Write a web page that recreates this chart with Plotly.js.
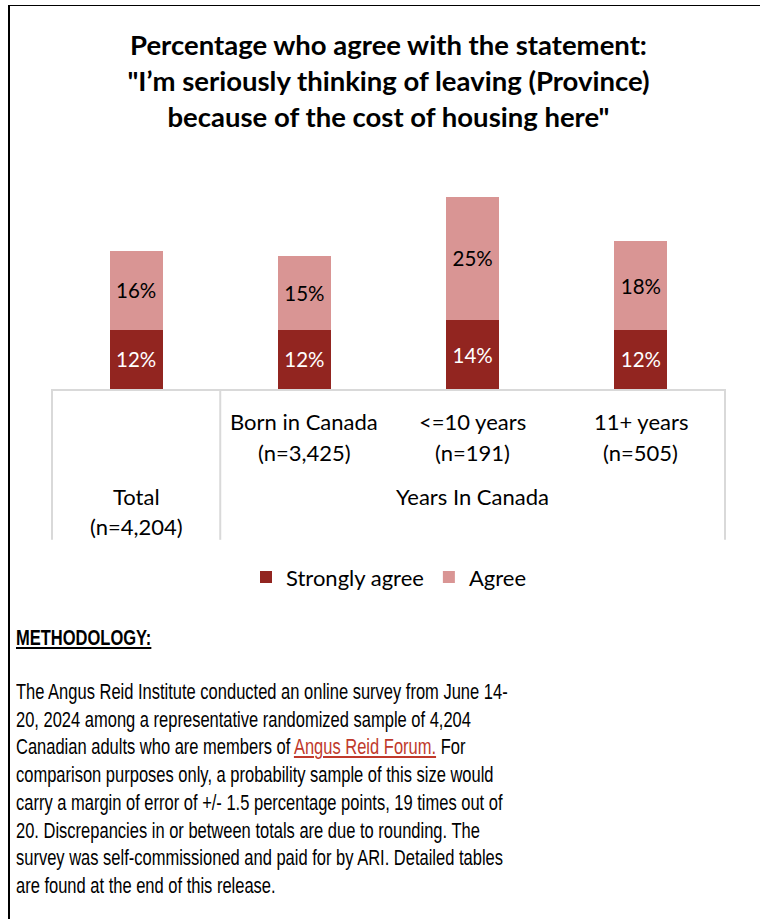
<!DOCTYPE html>
<html>
<head>
<meta charset="utf-8">
<script src="https://cdn.plot.ly/plotly-3.0.1.min.js"></script>
<style>
  html, body { margin: 0; padding: 0; background: #fff; }
  body { width: 760px; height: 919px; position: relative; overflow: hidden; }
  #frame { position: absolute; left: 8px; top: 5px; width: 760px; height: 930px;
           border-left: 2px solid #000; border-top: 1px solid #000; }
  #chart { position: absolute; left: 0; top: 0; width: 760px; height: 610px; }
  .method { position: absolute; left: 16px; font-family: "Liberation Sans", Arial, sans-serif;
            font-size: 22px; line-height: 27.7px; color: #000; white-space: nowrap;
            transform: scaleX(0.75); transform-origin: left top; }
  #mhead { top: 624px; font-weight: bold; text-decoration: underline; }
  #mbody { top: 678px; }
  #mbody a { color: #c0392b; text-decoration: underline; }
</style>
</head>
<body>
<div id="frame"></div>
<div id="chart"></div>
<div class="method" id="mhead">METHODOLOGY:</div>
<div class="method" id="mbody">The Angus Reid Institute conducted an online survey from June 14-<br>20, 2024 among a representative randomized sample of 4,204<br>Canadian adults who are members of <a>Angus Reid Forum.</a> For<br>comparison purposes only, a probability sample of this size would<br>carry a margin of error of +/- 1.5 percentage points, 19 times out of<br>20. Discrepancies in or between totals are due to rounding. The<br>survey was self-commissioned and paid for by ARI. Detailed tables<br>are found at the end of this release.</div>
<script>
// chart data
var categories = ["Total", "Born in Canada", "<=10 years", "11+ years"];
var sampleSizes = ["4,204", "3,425", "191", "505"];
var groupLabel = "Years In Canada";
var stronglyAgree = [12, 12, 14, 12];
var agree = [16, 15, 25, 18];

var font = "Lato, 'Noto Sans', sans-serif";
var darkRed = "#922520";
var pink = "#d99594";
var gridGrey = "#d9d9d9";

var H = 610;
var plotTop = 182, plotBottom = 392;
var plotH = plotBottom - plotTop;

// pixel row -> yshift (negative = below the baseline)
function shiftTo(py) { return plotBottom - py; }

var traces = [
    {
        type: "bar",
        name: "Strongly agree",
        x: categories,
        y: stronglyAgree,
        marker: {color: darkRed},
        text: stronglyAgree.map(function (v) { return v + "%"; }),
        textposition: "inside",
        insidetextanchor: "middle",
        textangle: 0,
        textfont: {family: font, size: 20.5, color: "#fff"},
        hoverinfo: "skip"
    },
    {
        type: "bar",
        name: "Agree",
        x: categories,
        y: agree,
        marker: {color: pink},
        text: agree.map(function (v) { return v + "%"; }),
        textposition: "inside",
        insidetextanchor: "middle",
        textangle: 0,
        textfont: {family: font, size: 20.5, color: "#000"},
        hoverinfo: "skip"
    }
];

var annotations = [];
var labelFont = {family: font, size: 22, color: "#000"};
categories.forEach(function (c, i) {
    var rows = i === 0 ? [499.5, 529.5] : [424.5, 455.5];
    annotations.push({
        x: c, xref: "x", y: 0, yref: "paper", yanchor: "middle",
        yshift: shiftTo(rows[0]), text: c, showarrow: false, font: labelFont
    });
    annotations.push({
        x: c, xref: "x", y: 0, yref: "paper", yanchor: "middle",
        yshift: shiftTo(rows[1]), text: "(n=" + sampleSizes[i] + ")", showarrow: false, font: labelFont
    });
});
annotations.push({
    x: categories[2], xref: "x", y: 0, yref: "paper", yanchor: "middle",
    yshift: shiftTo(499.5), text: groupLabel, showarrow: false, font: labelFont
});

// dividers between outer groups (left edge, after Total, right edge)
var n = categories.length;
var dividerBottom = -(545 - plotBottom) / plotH;
var shapes = [0, 1, n].map(function (k) {
    return {
        type: "line", xref: "paper", yref: "paper",
        x0: k / n, x1: k / n, y0: 0, y1: dividerBottom,
        line: {color: gridGrey, width: 2}
    };
});

var layout = {
    width: 760,
    height: H,
    margin: {l: 52, r: 35, t: plotTop, b: H - plotBottom, pad: 0},
    paper_bgcolor: "rgba(0,0,0,0)",
    plot_bgcolor: "rgba(0,0,0,0)",
    barmode: "stack",
    bargap: 0.685,
    title: {
        text: "<b>Percentage who agree with the statement:<br>\"I’m seriously thinking of leaving (Province)<br>because of the cost of housing here\"</b>",
        font: {family: font, size: 27.5, color: "#000"},
        x: 0.5, xref: "paper", xanchor: "center",
        y: 1 - 55 / H, yref: "container", yanchor: "middle"
    },
    xaxis: {
        type: "category", range: [-0.5, n - 0.5],
        showticklabels: false, ticks: "", showgrid: false, zeroline: false,
        showline: true, linecolor: gridGrey, linewidth: 2, fixedrange: true
    },
    yaxis: {visible: false, range: [0, plotH / 5], fixedrange: true},
    showlegend: true,
    legend: {
        orientation: "h", traceorder: "normal",
        bgcolor: "rgba(0,0,0,0)",
        x: 0.5, xanchor: "center",
        y: -(583 - plotBottom) / plotH, yanchor: "middle",
        font: {family: font, size: 22, color: "#000"}
    },
    annotations: annotations,
    shapes: shapes
};

Plotly.newPlot("chart", traces, layout, {displayModeBar: false, staticPlot: true});
</script>
</body>
</html>
